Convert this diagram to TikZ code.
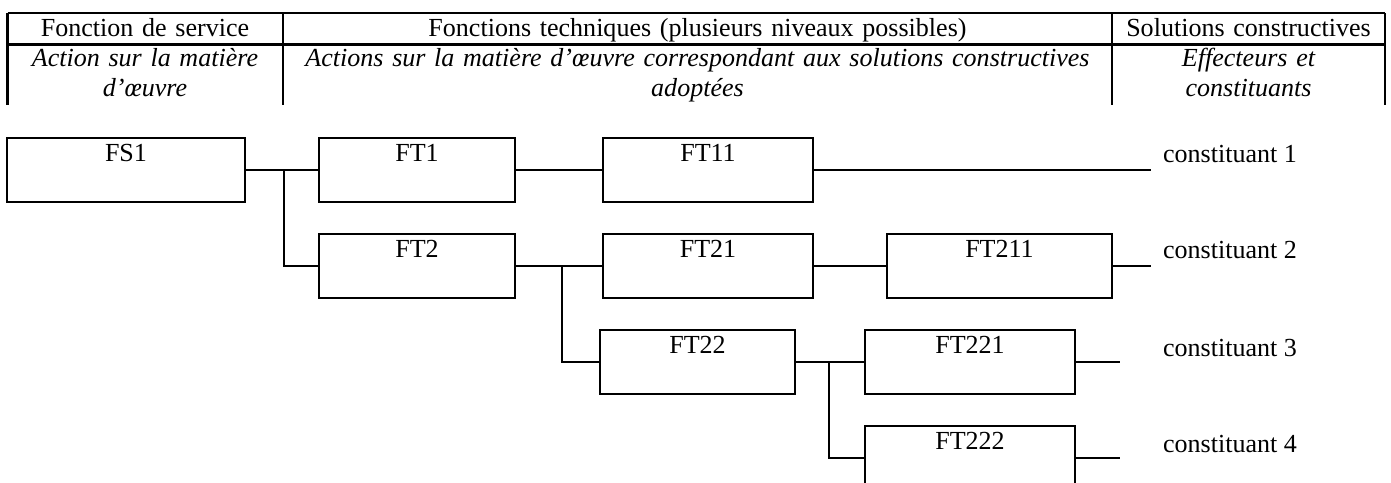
\documentclass[tikz,border=0pt]{standalone}
\usepackage{fontspec}
\setmainfont{Liberation Serif}
\begin{document}
\begin{tikzpicture}[x=0.4608pt,y=-0.4608pt,line width=1pt,
  font=\fontsize{12pt}{13.8pt}\selectfont,
  fbox/.style={draw,inner sep=0pt,minimum height=29.5pt,text height=11pt,text depth=18.5pt},
  head/.style={anchor=base,inner sep=0pt,text width=400pt,align=center},
  ital/.style={head,font=\fontsize{12pt}{13.8pt}\selectfont\itshape},
  cst/.style={anchor=base west,inner sep=0pt}]
\useasboundingbox (0,0) rectangle (1391,483);
\draw (7.5,13) -- (1385,13);
\draw (7.5,44.5) -- (1385,44.5);
\foreach \x in {7.5,283,1112,1385}
  \draw (\x,13) -- (\x,105);
\node[head] (h1) at (145,37) {Fonction de service};
\node[head] (h2) at (697.5,37) {Fonctions techniques (plusieurs niveaux possibles)};
\node[head] (h3) at (1248.5,37) {Solutions constructives};
\node[ital] (a1) at (145,67) {Action sur la matière\\d’œuvre};
\node[ital] (a2) at (697.5,67) {Actions sur la matière d’œuvre correspondant aux solutions constructives\\adoptées};
\node[ital] (a3) at (1248.5,67) {Effecteurs et\\constituants};

\node[fbox,minimum width=109.7pt] (fs1) at (126,170) {FS1};
\node[fbox,minimum width=90.3pt] (ft1) at (417,170) {FT1};
\node[fbox,minimum width=96.8pt] (ft11) at (708,170) {FT11};
\node[fbox,minimum width=90.3pt] (ft2) at (417,266) {FT2};
\node[fbox,minimum width=96.8pt] (ft21) at (708,266) {FT21};
\node[fbox,minimum width=103.7pt] (ft211) at (999.5,266) {FT211};
\node[fbox,minimum width=89.9pt] (ft22) at (697.5,362) {FT22};
\node[fbox,minimum width=96.8pt] (ft221) at (970,362) {FT221};
\node[fbox,minimum width=96.8pt] (ft222) at (970,458) {FT222};

\coordinate (j1) at (284,170);
\coordinate (j2) at (562,266);
\coordinate (j3) at (829,362);
\draw (fs1) -- (ft1);
\draw (j1) |- (ft2.west);
\draw (ft1) -- (ft11);
\draw (ft2) -- (ft21);
\draw (j2) |- (ft22.west);
\draw (ft21) -- (ft211);
\draw (ft22) -- (ft221);
\draw (j3) |- (ft222.west);

\coordinate (e1) at (1151,170);
\coordinate (e2) at (1151,266);
\coordinate (e3) at (1120,362);
\coordinate (e4) at (1120,458);
\draw (ft11.east) -- (e1);
\draw (ft211.east) -- (e2);
\draw (ft221.east) -- (e3);
\draw (ft222.east) -- (e4);
\node[cst] (c1) at (1162,163) {constituant 1};
\node[cst] (c2) at (1162,259) {constituant 2};
\node[cst] (c3) at (1162,357) {constituant 3};
\node[cst] (c4) at (1162,453) {constituant 4};
\end{tikzpicture}
\end{document}
